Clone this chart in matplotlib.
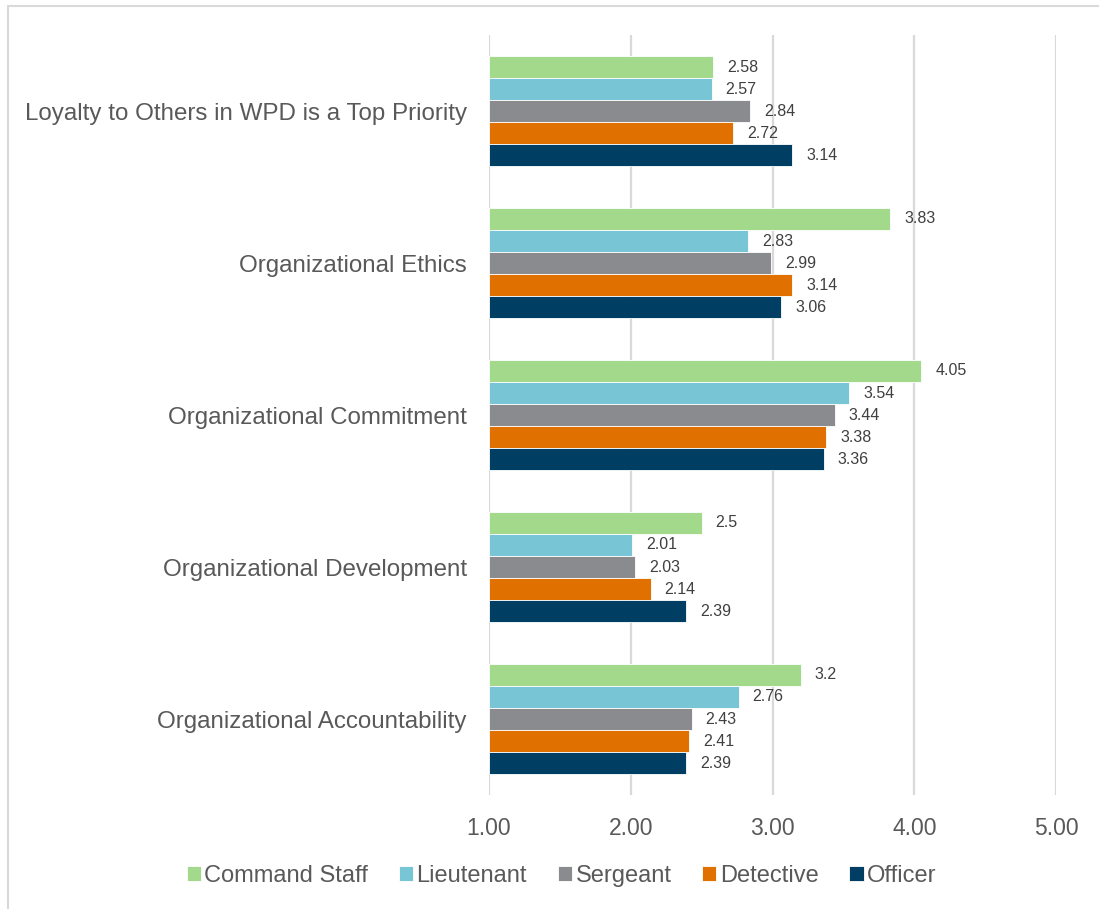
import numpy as np
import matplotlib.pyplot as plt
from matplotlib.patches import Rectangle

plt.rcParams['font.family'] = ['Liberation Sans', 'DejaVu Sans']

# survey items, listed top to bottom
categories = ['Loyalty to Others in WPD is a Top Priority',
              'Organizational Ethics',
              'Organizational Commitment',
              'Organizational Development',
              'Organizational Accountability']

ranks = ['Command Staff', 'Lieutenant', 'Sergeant', 'Detective', 'Officer']

command_staff = [2.58, 3.83, 4.05, 2.5, 3.2]
lieutenant = [2.57, 2.83, 3.54, 2.01, 2.76]
sergeant = [2.84, 2.99, 3.44, 2.03, 2.43]
detective = [2.72, 3.14, 3.38, 2.14, 2.41]
officer = [3.14, 3.06, 3.36, 2.39, 2.39]

x_ticks = [1, 2, 3, 4, 5]

colors = ['#a2d98a', '#78c5d6', '#898b8e', '#e07000', '#003f63']
series = [command_staff, lieutenant, sergeant, detective, officer]

fig = plt.figure(figsize=(10.99, 9.09), dpi=100)
ax = fig.add_axes([0.445, 0.1254, 0.516, 0.836])

n = len(categories)
y = np.arange(n)[::-1]  # first category on top
bar_h = 0.145
base = 1.0

for i, (vals, col, name) in enumerate(zip(series, colors, ranks)):
    offs = (2 - i) * bar_h
    widths = [v - base for v in vals]
    bars = ax.barh(y + offs, widths, height=bar_h, left=base, color=col,
                   edgecolor='white', linewidth=0.6, label=name, zorder=3)
    ax.bar_label(bars, labels=[f'{v:g}' for v in vals], padding=10,
                 fontsize=11.5, color='#404040')

ax.set_xlim(1, 5)
ax.set_ylim(-0.5, n - 0.5)
ax.set_xticks(x_ticks)
ax.set_xticklabels([f'{t:.2f}' for t in x_ticks], fontsize=16.5, color='#595959')
ax.set_yticks(y)
ax.set_yticklabels(categories, fontsize=17.4, color='#595959')
ax.tick_params(axis='x', length=0, pad=16)
ax.tick_params(axis='y', length=0, pad=16)
ax.grid(axis='x', color='#d9d9d9', linewidth=1.6, zorder=0)
for s in ax.spines.values():
    s.set_visible(False)

leg = ax.legend(loc='center', bbox_to_anchor=(0.511, 0.0365),
                bbox_transform=fig.transFigure, ncol=5, frameon=False,
                fontsize=17, handlelength=0.6, handleheight=0.6,
                handletextpad=0.15, columnspacing=1.3)
for t in leg.get_texts():
    t.set_color('#595959')

# light frame around the chart (open on the right and bottom)
fig.patches.append(Rectangle((7.5 / 1099, -0.1), 1.2, 1.1 - 6 / 909,
                             transform=fig.transFigure, fill=False,
                             edgecolor='#d9d9d9', linewidth=1.5))

fig.savefig('out.png', dpi=100)
